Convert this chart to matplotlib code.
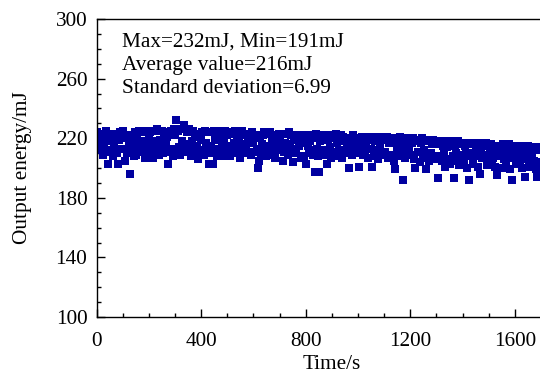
import numpy as np
import matplotlib
matplotlib.use("Agg")
import matplotlib.pyplot as plt
from matplotlib.ticker import MultipleLocator

# Output energy (mJ), one sample every 4 s (rows of 100 s)
energy_mJ = [
    224, 219, 223, 212, 215, 221, 209, 217, 222, 225, 212, 203, 220, 211, 218, 223, 208, 214, 221, 210, 203, 219, 224, 213, 222,
    225, 213, 205, 220, 210, 211, 218, 196, 222, 214, 216, 208, 224, 209, 219, 225, 214, 211, 218, 224, 212, 207, 225, 217, 213,
    219, 224, 213, 210, 207, 225, 218, 212, 226, 215, 209, 219, 225, 210, 222, 214, 217, 221, 203, 224, 211, 225, 213, 208, 226,
    222, 232, 212, 225, 214, 209, 226, 218, 213, 229, 216, 224, 211, 226, 213, 208, 218, 225, 209, 221, 214, 215, 206, 223, 211,
    219, 224, 212, 209, 225, 217, 213, 203, 224, 215, 210, 203, 225, 220, 213, 208, 219, 225, 212, 221, 216, 208, 220, 225, 211,
    222, 215, 224, 208, 212, 223, 217, 225, 210, 221, 213, 218, 207, 222, 225, 210, 214, 223, 216, 211, 220, 211, 223, 209, 224,
    217, 222, 211, 213, 200, 205, 220, 210, 216, 222, 224, 211, 208, 223, 215, 212, 224, 209, 218, 222, 214, 207, 220, 212, 223,
    219, 223, 214, 205, 211, 217, 223, 212, 209, 224, 216, 222, 212, 204, 221, 213, 210, 219, 222, 215, 207, 217, 220, 208, 222,
    203, 221, 215, 210, 218, 212, 222, 209, 220, 197, 223, 213, 208, 197, 218, 222, 212, 220, 209, 210, 203, 219, 222, 214, 207,
    222, 211, 220, 208, 223, 217, 210, 212, 219, 222, 207, 221, 210, 218, 214, 217, 200, 220, 213, 209, 222, 216, 210, 219, 212,
    217, 201, 220, 210, 221, 209, 218, 212, 215, 219, 207, 221, 213, 201, 220, 208, 218, 221, 212, 206, 221, 215, 209, 220, 210,
    220, 211, 219, 221, 207, 217, 220, 209, 218, 205, 199, 220, 213, 208, 216, 221, 209, 212, 192, 220, 207, 217, 220, 211, 214,
    219, 209, 217, 220, 206, 200, 218, 211, 219, 204, 217, 220, 207, 212, 219, 199, 218, 209, 205, 219, 210, 216, 219, 206, 217,
    218, 208, 193, 216, 218, 205, 215, 210, 201, 218, 214, 206, 217, 203, 216, 218, 208, 193, 215, 210, 205, 218, 202, 216, 209,
    217, 205, 215, 210, 200, 216, 192, 208, 217, 210, 203, 217, 208, 212, 216, 201, 217, 196, 213, 207, 209, 215, 217, 202, 205,
    215, 210, 216, 204, 207, 215, 201, 211, 195, 214, 208, 209, 215, 200, 216, 206, 213, 203, 210, 216, 199, 207, 192, 214, 208,
    213, 203, 215, 208, 214, 203, 209, 200, 212, 215, 194, 206, 210, 215, 201, 214, 207, 212, 205, 213, 199, 194, 214, 204, 212,
    214, 203, 212, 208, 203, 211, 200, 207, 214, 210, 196, 213, 204, 214, 206, 212, 199, 213, 204, 214,
]
sample_step_s = 4
time_s = np.arange(len(energy_mJ)) * sample_step_s

annotation_lines = ["Max=232mJ, Min=191mJ", "Average value=216mJ", "Standard deviation=6.99"]
y_major_ticks = [100, 140, 180, 220, 260, 300]

plt.rcParams['font.family'] = ['Liberation Serif', 'DejaVu Serif']
FS = 15.3

W, H = 540, 374
fig = plt.figure(figsize=(W / 100, H / 100), dpi=100)
x0, x1 = 96.7, 96.7 + 1800 * 0.2613
y0, y1 = 317, 19
ax = fig.add_axes([x0 / W, 1 - y0 / H, (x1 - x0) / W, (y0 - y1) / H])

ax.plot(time_s, energy_mJ, linestyle='none', marker='s', markersize=5.5,
        color='#0000a0', markeredgewidth=0)

ax.set_xlim(0, 1800)
ax.set_ylim(100, 300)
ax.xaxis.set_major_locator(MultipleLocator(400))
ax.xaxis.set_minor_locator(MultipleLocator(100))
ax.set_yticks(y_major_ticks)
ax.yaxis.set_minor_locator(MultipleLocator(10))
ax.tick_params(which='both', direction='in', top=False, right=False, labelsize=FS, width=1)
ax.tick_params(which='major', length=6)
ax.tick_params(which='minor', length=3)
ax.tick_params(axis='y', which='major', pad=6.8)
ax.tick_params(axis='x', which='major', pad=10.5)
for s in ax.spines.values():
    s.set_linewidth(1)

ax.set_xlabel('Time/s', fontsize=FS, labelpad=3)
ax.set_ylabel('Output energy/mJ', fontsize=FS, labelpad=17)

for i, line in enumerate(annotation_lines):
    fig.text(121.5 / W, 1 - (46.7 + i * 23) / H, line, fontsize=FS, va='baseline', ha='left')

fig.savefig('out.png', dpi=100)
